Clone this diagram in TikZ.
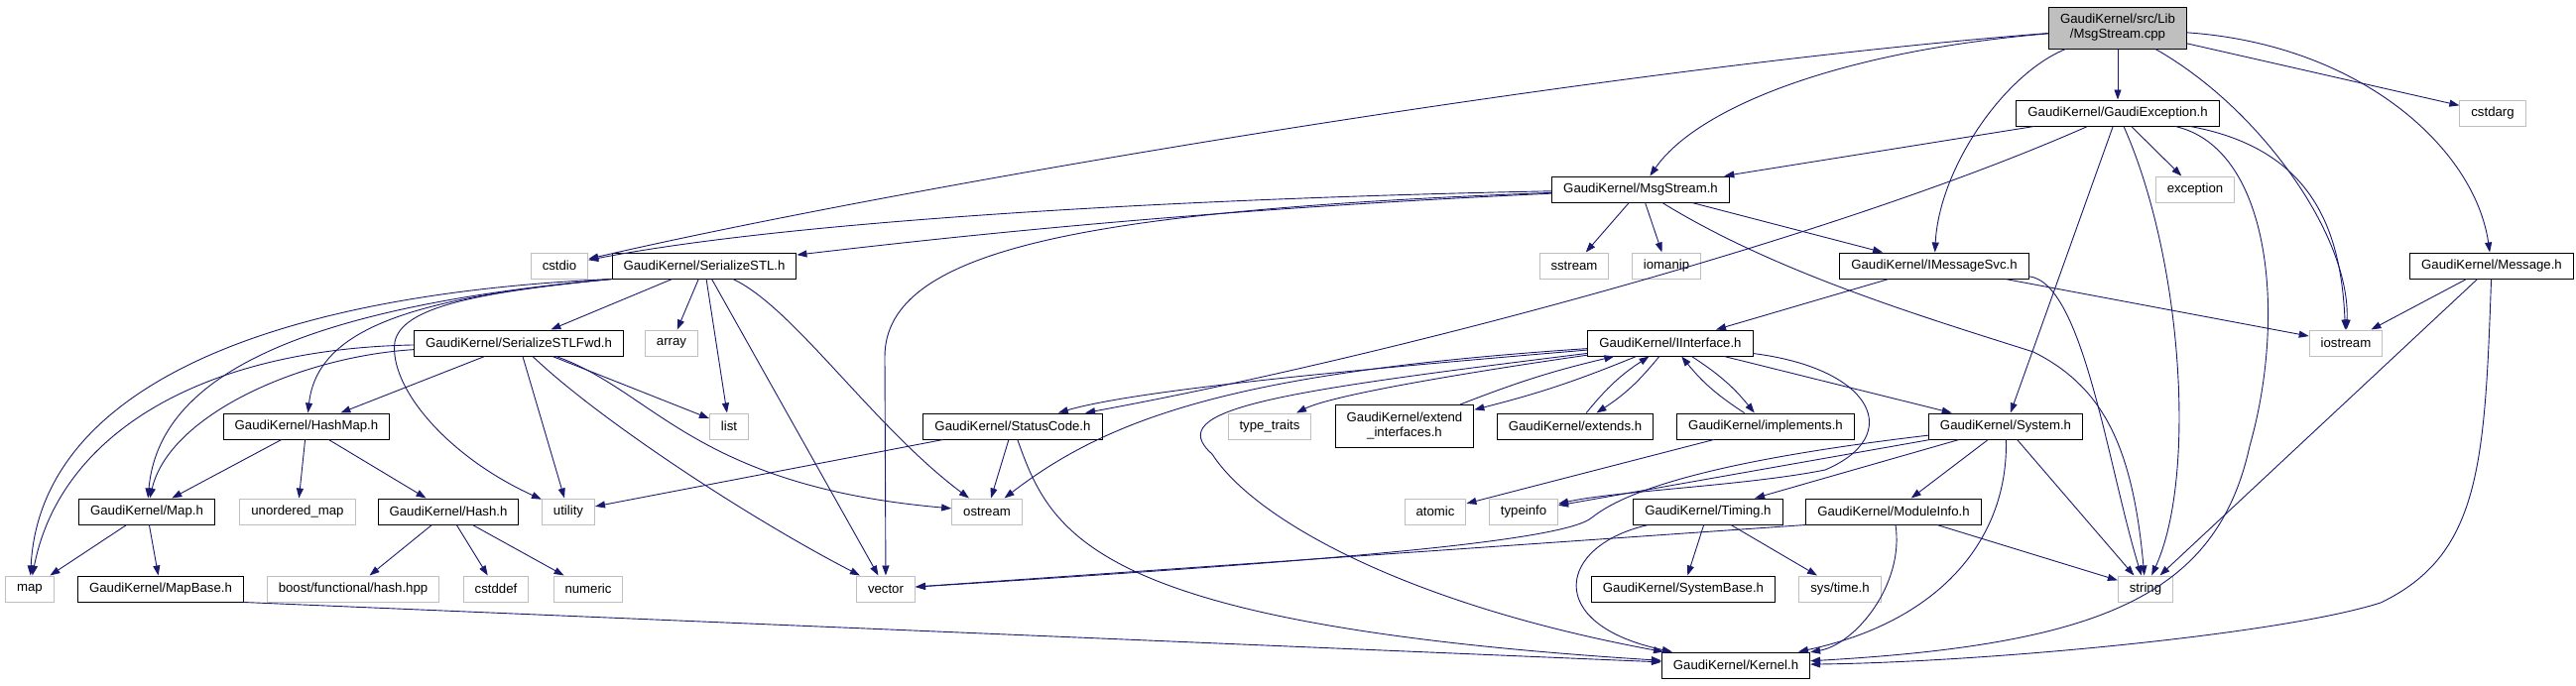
\documentclass[tikz,border=0pt]{standalone}
\usepackage{fontspec}
\setmainfont{Liberation Sans}
\usetikzlibrary{arrows.meta}
\definecolor{edgeblue}{HTML}{191970}
\definecolor{grey75}{HTML}{BFBFBF}
\tikzset{
	hdr/.style={draw=black, fill=white, line width=1pt, inner xsep=11.5pt, inner ysep=0pt, minimum height=26pt, align=center, font=\fontsize{13.2}{15}\selectfont},
	sys/.style={hdr, draw=grey75},
	src/.style={hdr, fill=grey75, minimum height=42pt},
	inc/.style={color=edgeblue, line width=0.9pt, -{Triangle[length=10pt, width=7pt]}}
}

\begin{document}
\begin{tikzpicture}[x=1pt, y=-1pt]
		%%%%% START %%%%%
		\useasboundingbox (0,0) rectangle (2597,691);
		
		\node[src] (cpp) at (2135,28) {GaudiKernel/src/Lib\\/MsgStream.cpp};
		\node[hdr] (exc) at (2135,114) {GaudiKernel/GaudiException.h};
		\node[sys] (cstdarg) at (2513,114) {cstdarg};
		\node[sys] (exception) at (2213,191) {exception};
		\node[hdr] (msgstream) at (1654,191) {GaudiKernel/MsgStream.h};
		
		\node[sys] (cstdio) at (564,268) {cstdio};
		\node[hdr] (serstl) at (710,268) {GaudiKernel/SerializeSTL.h};
		\node[sys] (sstream) at (1587,268) {sstream};
		\node[sys] (iomanip) at (1680,268) {iomanip};
		\node[hdr] (imsgsvc) at (1950,268) {GaudiKernel/IMessageSvc.h};
		\node[hdr] (message) at (2512,268) {GaudiKernel/Message.h};
		
		\node[hdr] (serfwd) at (523,346) {GaudiKernel/SerializeSTLFwd.h};
		\node[sys] (array) at (677,346) {array};
		\node[hdr] (iiface) at (1684,346) {GaudiKernel/IInterface.h};
		\node[sys] (iostream) at (2365,346) {iostream};
		
		\node[hdr] (hashmap) at (309,430) {GaudiKernel/HashMap.h};
		\node[sys] (list) at (735,430) {list};
		\node[hdr] (statcode) at (1021,430) {GaudiKernel/StatusCode.h};
		\node[sys] (typetraits) at (1280,430) {type\_traits};
		\node[hdr, minimum height=43pt] (extiface) at (1416,430) {GaudiKernel/extend\\\_interfaces.h};
		\node[hdr] (extends) at (1588,430) {GaudiKernel/extends.h};
		\node[hdr] (implements) at (1780,430) {GaudiKernel/implements.h};
		\node[hdr] (system) at (2022,430) {GaudiKernel/System.h};
		
		\node[hdr] (gkmap) at (148,516) {GaudiKernel/Map.h};
		\node[sys] (unordmap) at (300,516) {unordered\_map};
		\node[hdr] (hash) at (452,516) {GaudiKernel/Hash.h};
		\node[sys] (utility) at (573,516) {utility};
		\node[sys] (ostream) at (995,516) {ostream};
		\node[sys] (atomic) at (1447,516) {atomic};
		\node[sys] (typeinfo) at (1536,516) {typeinfo};
		\node[hdr] (timing) at (1722,516) {GaudiKernel/Timing.h};
		\node[hdr] (modinfo) at (1909,516) {GaudiKernel/ModuleInfo.h};
		
		\node[sys] (stdmap) at (30,594) {map};
		\node[hdr] (mapbase) at (162,594) {GaudiKernel/MapBase.h};
		\node[sys] (boost) at (356,594) {boost/functional/hash.hpp};
		\node[sys] (cstddef) at (500,594) {cstddef};
		\node[sys] (numeric) at (593,594) {numeric};
		\node[sys] (vector) at (893,594) {vector};
		\node[hdr] (sysbase) at (1697,594) {GaudiKernel/SystemBase.h};
		\node[sys] (systime) at (1855,594) {sys/time.h};
		\node[sys] (string) at (2163,594) {string};
		
		\node[hdr] (kernel) at (1750,671) {GaudiKernel/Kernel.h};
		
		% MsgStream.cpp
		\draw[inc] (cpp) -- (exc);
		\draw[inc] (cpp) -- (cstdarg);
		\draw[inc] (cpp) .. controls (1850,52) and (1710,110) .. (msgstream);
		\draw[inc] (cpp) .. controls (1600,70) and (900,190) .. (cstdio);
		\draw[inc] (cpp) .. controls (2020,75) and (1955,170) .. (imsgsvc);
		\draw[inc] (cpp) .. controls (2280,110) and (2370,240) .. (iostream);
		\draw[inc] (cpp) .. controls (2380,45) and (2495,150) .. (message);
		
		% GaudiException.h
		\draw[inc] (exc) -- (msgstream);
		\draw[inc] (exc) .. controls (1850,240) and (1400,360) .. (statcode);
		\draw[inc] (exc) -- (system);
		\draw[inc] (exc) .. controls (2200,260) and (2215,480) .. (string);
		\draw[inc] (exc) -- (exception);
		\draw[inc] (exc) .. controls (2290,150) and (2305,320) .. (2268,450) .. controls (2235,600) and (2120,650) .. (kernel);
		\draw[inc] (exc) .. controls (2330,150) and (2360,230) .. (iostream);
		
		% MsgStream.h
		\draw[inc] (msgstream) .. controls (1200,200) and (800,222) .. (cstdio);
		\draw[inc] (msgstream) .. controls (1200,212) and (950,240) .. (serstl);
		\draw[inc] (msgstream) .. controls (1100,212) and (892,250) .. (892,360) -- (vector);
		\draw[inc] (msgstream) -- (sstream);
		\draw[inc] (msgstream) -- (iomanip);
		\draw[inc] (msgstream) -- (imsgsvc);
		\draw[inc] (msgstream) .. controls (1790,275) and (1940,320) .. (2050,355) .. controls (2120,390) and (2150,450) .. (string);
		
		% IMessageSvc.h, Message.h
		\draw[inc] (imsgsvc) -- (iiface);
		\draw[inc] (imsgsvc) -- (iostream);
		\draw[inc] (imsgsvc) .. controls (2100,285) and (2125,470) .. (string);
		\draw[inc] (message) -- (iostream);
		\draw[inc] (message) -- (string);
		\draw[inc] (message) .. controls (2505,470) and (2500,560) .. (2400,608) .. controls (2300,640) and (2000,668) .. (kernel);
		
		% SerializeSTL.h
		\draw[inc] (serstl) -- (serfwd);
		\draw[inc] (serstl) -- (array);
		\draw[inc] (serstl) -- (list);
		\draw[inc] (serstl) -- (vector);
		\draw[inc] (serstl) .. controls (800,310) and (880,430) .. (ostream);
		\draw[inc] (serstl.south west) .. controls (480,295) and (405,310) .. (398,345) .. controls (392,390) and (450,460) .. (utility);
		\draw[inc] (serstl.south west) .. controls (420,300) and (320,330) .. (hashmap);
		\draw[inc] (serstl.south west) .. controls (300,310) and (160,380) .. (gkmap);
		\draw[inc] (serstl.south west) .. controls (250,298) and (40,400) .. (stdmap);
		
		% SerializeSTLFwd.h
		\draw[inc] (serfwd) -- (hashmap);
		\draw[inc] (serfwd) -- (list);
		\draw[inc] (serfwd) -- (utility);
		\draw[inc] (serfwd) .. controls (600,420) and (750,520) .. (vector);
		\draw[inc] (serfwd) .. controls (660,395) and (700,490) .. (ostream);
		\draw[inc] (serfwd) .. controls (300,360) and (170,420) .. (gkmap);
		\draw[inc] (serfwd) .. controls (200,352) and (60,440) .. (stdmap);
		
		% HashMap.h, Hash.h, Map.h
		\draw[inc] (hashmap) -- (gkmap);
		\draw[inc] (hashmap) -- (unordmap);
		\draw[inc] (hashmap) -- (hash);
		\draw[inc] (hash) -- (boost);
		\draw[inc] (hash) -- (cstddef);
		\draw[inc] (hash) -- (numeric);
		\draw[inc] (gkmap) -- (stdmap);
		\draw[inc] (gkmap) -- (mapbase);
		\draw[inc] (mapbase.south east) -- (kernel);
		
		% StatusCode.h
		\draw[inc] (statcode) -- (utility);
		\draw[inc] (statcode) -- (ostream);
		\draw[inc] (statcode) .. controls (1060,540) and (1100,630) .. (kernel);
		
		% IInterface.h
		\draw[inc] (iiface) .. controls (1400,370) and (1150,392) .. (statcode);
		\draw[inc] (iiface) .. controls (1250,375) and (1120,420) .. (ostream);
		\draw[inc] (iiface) .. controls (1290,395) and (1170,412) .. (1222,458) .. controls (1265,525) and (1420,610) .. (kernel);
		\draw[inc] (iiface) .. controls (1450,380) and (1340,400) .. (typetraits);
		\draw[inc] (iiface) to[bend left=4] (extiface);
		\draw[inc] (extiface) to[bend left=4] (iiface);
		\draw[inc] (iiface) to[bend left=9] (extends);
		\draw[inc] (extends) to[bend left=9] (iiface);
		\draw[inc] (iiface) to[bend left=9] (implements);
		\draw[inc] (implements) to[bend left=9] (iiface);
		\draw[inc] (iiface) -- (system);
		\draw[inc] (iiface) .. controls (1890,372) and (1920,440) .. (1840,474) .. controls (1760,490) and (1630,495) .. (typeinfo);
		\draw[inc] (implements) -- (atomic);
		
		% System.h
		\draw[inc] (system) -- (string);
		\draw[inc] (system) -- (modinfo);
		\draw[inc] (system) .. controls (2025,540) and (1960,626) .. (kernel);
		\draw[inc] (system) -- (timing);
		\draw[inc] (system) -- (typeinfo);
		\draw[inc] (system) .. controls (1750,462) and (1645,490) .. (1605,522) .. controls (1575,548) and (1300,568) .. (vector);
		
		% ModuleInfo.h, Timing.h
		\draw[inc] (modinfo.south west) -- (vector);
		\draw[inc] (modinfo) -- (string);
		\draw[inc] (modinfo) .. controls (1920,590) and (1870,650) .. (kernel);
		\draw[inc] (timing) .. controls (1570,550) and (1555,630) .. (kernel);
		\draw[inc] (timing) -- (sysbase);
		\draw[inc] (timing) -- (systime);
		
		%%%%% END %%%%%
\end{tikzpicture}
\end{document}
